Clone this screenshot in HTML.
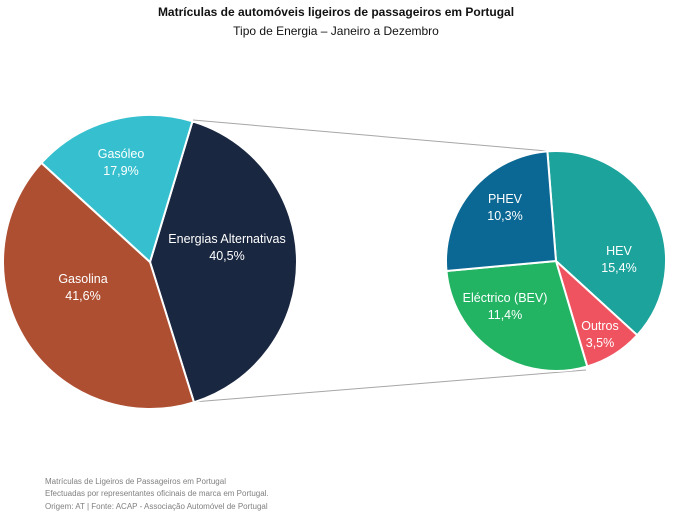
<!DOCTYPE html>
<html><head><meta charset="utf-8"><style>
body{margin:0;background:#fff;width:673px;height:518px;overflow:hidden;font-family:"Liberation Sans",sans-serif}
</style></head><body>
<svg id="s" width="673" height="518" xmlns="http://www.w3.org/2000/svg" font-family="Liberation Sans, sans-serif">
<text x="336" y="16" text-anchor="middle" font-size="12" font-weight="bold" fill="#111">Matrículas de automóveis ligeiros de passageiros em Portugal</text>
<text x="336" y="35" text-anchor="middle" font-size="12" fill="#111">Tipo de Energia – Janeiro a Dezembro</text>
<line x1="193" y1="120" x2="547" y2="151" stroke="#a6a6a6" stroke-width="1"/>
<line x1="193" y1="402" x2="586" y2="370" stroke="#a6a6a6" stroke-width="1"/>
<g id="p"></g>
<g font-size="12.5" fill="#fff" text-anchor="middle">
<text x="121" y="158">Gasóleo</text><text x="121" y="175">17,9%</text>
<text x="227" y="243">Energias Alternativas</text><text x="227" y="260">40,5%</text>
<text x="83" y="283">Gasolina</text><text x="83" y="300">41,6%</text>
<text x="505" y="203">PHEV</text><text x="505" y="220">10,3%</text>
<text x="619" y="255">HEV</text><text x="619" y="272">15,4%</text>
<text x="505" y="302">Eléctrico (BEV)</text><text x="505" y="319">11,4%</text>
<text x="600" y="330">Outros</text><text x="600" y="347">3,5%</text>
</g>
<g font-size="8" fill="#808080">
<text x="45" y="484">Matrículas de Ligeiros de Passageiros em Portugal</text>
<text x="45" y="496">Efectuadas por representantes oficinais de marca em Portugal.</text>
<text x="45" y="509">Origem: AT | Fonte: ACAP - Associação Automóvel de Portugal</text>
</g>
</svg>
<script>
function pie(cx,cy,r,start,sl){var g=document.getElementById('p'),a=start,h='';
sl.forEach(function(s){var b=a+s[0],r1=a*Math.PI/180,r2=b*Math.PI/180;
var x1=cx+r*Math.sin(r1),y1=cy-r*Math.cos(r1),x2=cx+r*Math.sin(r2),y2=cy-r*Math.cos(r2);
h+='<path d="M'+cx+' '+cy+'L'+x1+' '+y1+'A'+r+' '+r+' 0 '+(s[0]>180?1:0)+' 1 '+x2+' '+y2+'Z" fill="'+s[1]+'" stroke="#fff" stroke-width="2"/>';a=b;});
g.innerHTML+=h;}
pie(150,262,147,16.8,[[145.8,'#1a2740'],[149.8,'#ae4f32'],[64.4,'#36c0cf']]);
pie(556,261,110,-4.5,[[136.9,'#1ba39c'],[31.1,'#ef5360'],[101.3,'#22b463'],[90.7,'#0b6793']]);
</script>
</body></html>
